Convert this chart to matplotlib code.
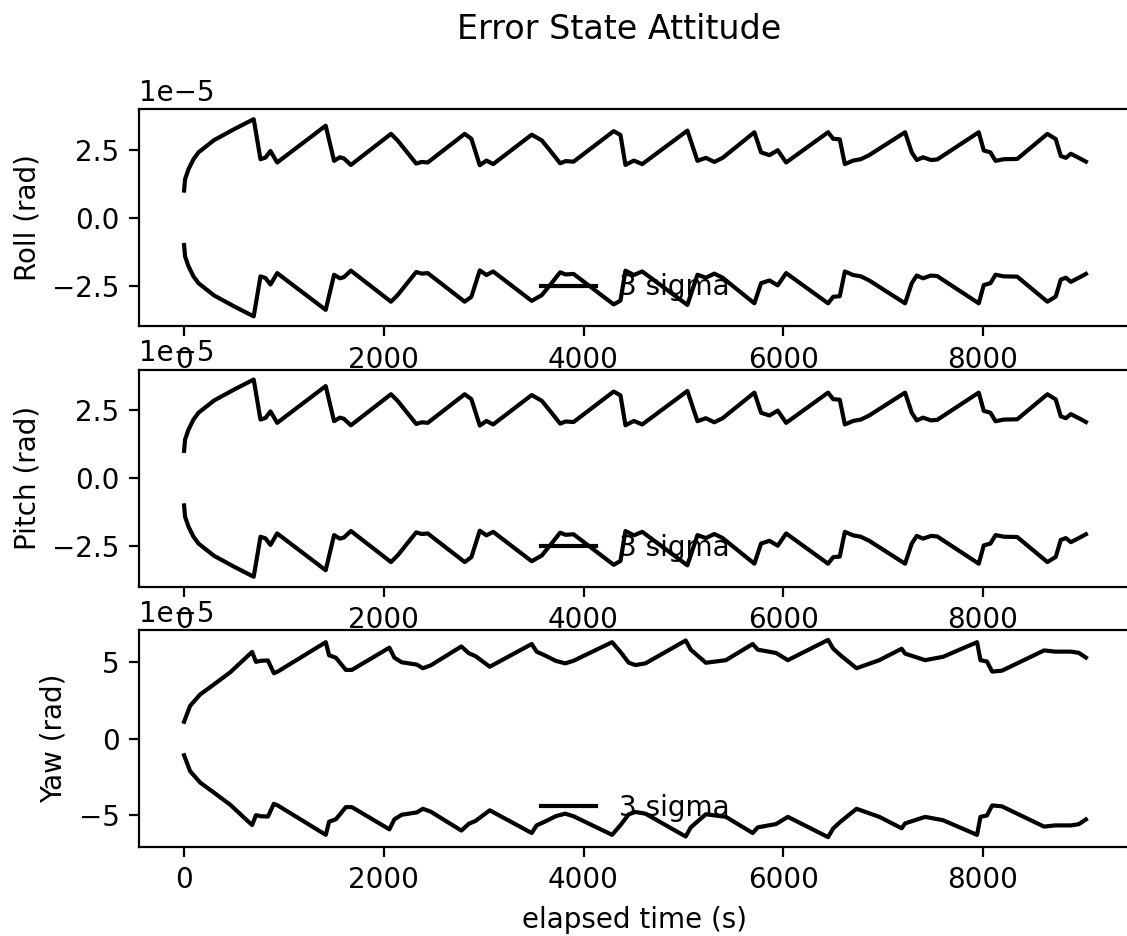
"""Error state attitude: +/- 3 sigma envelopes for roll, pitch and yaw."""

import matplotlib
matplotlib.use("Agg")
import matplotlib.pyplot as plt
import numpy as np

# 3-sigma envelope (units of 1e-5 rad)
ROLL_T = [0, 10, 44, 94, 144, 300, 500, 697, 765, 815, 865, 932, 1418, 1502, 1560,
          1600, 1670, 2072, 2140, 2324, 2380, 2440, 2810, 2877, 2961, 3028, 3095,
          3481, 3582, 3680, 3766, 3820, 3900, 4302, 4370, 4420, 4504, 4588, 5040,
          5141, 5225, 5310, 5393, 5711, 5778, 5862, 5945, 6029, 6449, 6500, 6566,
          6617, 6700, 6777, 6861, 7220, 7287, 7337, 7400, 7480, 7542, 7958, 8008,
          8075, 8126, 8209, 8343, 8645, 8729, 8779, 8830, 8880, 8960, 9031]
ROLL_SIGMA = [1.0, 1.42, 1.78, 2.15, 2.40, 2.85, 3.25, 3.62, 2.15, 2.21, 2.45, 2.03,
              3.38, 2.09, 2.22, 2.18, 1.94, 3.08, 2.83, 1.99, 2.05, 2.03, 3.08, 2.90,
              1.93, 2.10, 1.97, 3.05, 2.84, 2.40, 2.00, 2.08, 2.06, 3.18, 3.04, 1.94,
              2.10, 1.97, 3.20, 2.09, 2.20, 2.05, 2.20, 3.14, 2.40, 2.30, 2.48, 2.03,
              3.14, 2.90, 2.88, 1.97, 2.10, 2.15, 2.30, 3.14, 2.40, 2.12, 2.22, 2.12,
              2.14, 3.14, 2.47, 2.40, 2.09, 2.15, 2.16, 3.08, 2.89, 2.27, 2.20, 2.35,
              2.20, 2.06]

PITCH_T = list(ROLL_T)
PITCH_SIGMA = [1.0, 1.42, 1.78, 2.15, 2.40, 2.85, 3.25, 3.62, 2.15, 2.21, 2.45, 2.03,
               3.38, 2.09, 2.22, 2.18, 1.94, 3.08, 2.83, 1.99, 2.05, 2.03, 3.08, 2.90,
               1.93, 2.10, 1.97, 3.05, 2.84, 2.40, 2.00, 2.08, 2.06, 3.18, 3.04, 1.94,
               2.10, 1.97, 3.20, 2.09, 2.20, 2.05, 2.20, 3.14, 2.40, 2.30, 2.48, 2.03,
               3.14, 2.90, 2.88, 1.97, 2.10, 2.15, 2.30, 3.14, 2.40, 2.12, 2.22, 2.12,
               2.14, 3.14, 2.47, 2.40, 2.09, 2.15, 2.16, 3.08, 2.89, 2.27, 2.20, 2.35,
               2.20, 2.06]

YAW_T = [0, 60, 161, 295, 463, 681, 720, 770, 840, 899, 940, 1419, 1452, 1520, 1620,
         1680, 2056, 2106, 2180, 2280, 2330, 2391, 2470, 2777, 2850, 2920, 3061, 3481,
         3530, 3630, 3720, 3816, 3900, 4286, 4370, 4453, 4520, 4620, 5023, 5074, 5225,
         5426, 5694, 5744, 5929, 6046, 6449, 6500, 6566, 6734, 6962, 7186, 7220, 7421,
         7600, 7941, 7975, 8040, 8092, 8190, 8612, 8720, 8880, 8960, 9031]
YAW_SIGMA = [1.1, 2.14, 2.89, 3.53, 4.35, 5.68, 5.03, 5.10, 5.12, 4.28, 4.40, 6.32,
             5.46, 5.30, 4.50, 4.50, 5.96, 5.30, 5.00, 4.90, 4.85, 4.61, 4.80, 6.04,
             5.60, 5.40, 4.71, 6.20, 5.70, 5.40, 5.10, 4.93, 5.10, 6.32, 5.68, 4.97,
             4.82, 4.93, 6.43, 5.83, 4.97, 5.14, 6.20, 5.83, 5.61, 5.14, 6.47, 5.90,
             5.50, 4.61, 5.14, 5.89, 5.57, 5.14, 5.36, 6.32, 5.14, 5.05, 4.39, 4.45,
             5.78, 5.70, 5.70, 5.62, 5.31]

PANELS = [
    ("Roll (rad)", ROLL_T, ROLL_SIGMA),
    ("Pitch (rad)", PITCH_T, PITCH_SIGMA),
    ("Yaw (rad)", YAW_T, YAW_SIGMA),
]


def main() -> None:
    fig, axes = plt.subplots(3, 1, figsize=(1127 / 200, 936 / 200), dpi=200)
    fig.subplots_adjust(left=139 / 1127, right=1131 / 1127,
                        top=1 - 109.3 / 936, bottom=1 - 847 / 936, hspace=0.2)

    for ax, (ylabel, t, sig) in zip(axes, PANELS):
        t = np.asarray(t, dtype=float)
        s = np.asarray(sig) * 1e-5
        ax.plot(t, s, color="k", label="3 sigma")
        ax.plot(t, -s, color="k")
        ax.set_ylabel(ylabel)
        ax.legend(loc="lower center", frameon=False)

    axes[-1].set_xlabel("elapsed time (s)")
    # the original figure was cropped on the right, so the title sits right of centre
    fig.suptitle("Error State Attitude", x=619 / 1127, y=1 - 13.2 / 936)
    fig.savefig("out.png", dpi=200)
    plt.close(fig)


if __name__ == "__main__":
    main()
